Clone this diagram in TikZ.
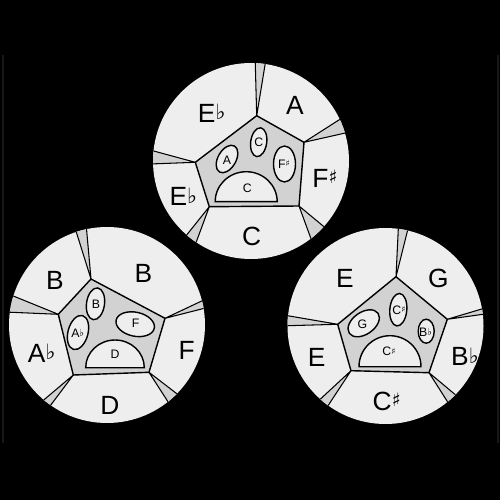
\documentclass[tikz,border=0pt]{standalone}
\usepackage{fontspec}
\setmainfont{Liberation Sans}
\newfontfamily\symfont{DejaVu Sans}
\usepackage{graphicx}
\usetikzlibrary{calc}
\definecolor{ringgray}{HTML}{EEEEEE}
\definecolor{pentgray}{HTML}{D2D2D2}
\newcommand{\flatsym}{\raisebox{.1em}{\scalebox{.8}{\symfont ♭}}}
\newcommand{\sharpsym}{\raisebox{.15em}{\scalebox{.7}{\symfont ♯}}}

\begin{document}
\begin{tikzpicture}[x=0.02cm,y=-0.02cm,line width=0.8pt,
  ring/.style={fill=ringgray},
  wedge/.style={fill=pentgray,draw=black,line width=0.6pt},
  pent/.style={fill=pentgray,draw=black},
  ell/.style={fill=ringgray,draw=black},
  big/.style={font=\fontsize{15}{18}\selectfont,inner sep=0pt},
  small/.style={font=\fontsize{7}{8}\selectfont,inner sep=0pt}]
\useasboundingbox (0,0) rectangle (500,500);
\fill[black] (0,0) rectangle (500,500);
\draw[gray!18!black,line width=0.6pt] (3,55) -- (3,443);
\draw[gray!18!black,line width=0.6pt] (498,55) -- (498,443);
% Top wheel
\begin{scope}[shift={(251,161)}]
\fill[ring] (0,0) circle (98);
\coordinate (a1) at (5.7,-45.3);
\coordinate (a2) at (53,-18.7);
\coordinate (a3) at (48,45);
\coordinate (a4) at (-41.7,45.7);
\coordinate (a5) at (-55.7,1.3);
\begin{scope}
\clip (0,0) circle (98);
\filldraw[wedge] (a1) -- ($(a1)!3!(4.3,-96.7)$) -- ($(a1)!3!(14,-96)$) -- cycle;
\filldraw[wedge] (a2) -- ($(a2)!3!(86.3,-40)$) -- ($(a2)!3!(95.7,-28.3)$) -- cycle;
\filldraw[wedge] (a3) -- ($(a3)!3!(62.3,84)$) -- ($(a3)!3!(79,70.7)$) -- cycle;
\filldraw[wedge] (a4) -- ($(a4)!3!(-71,82.3)$) -- ($(a4)!3!(-57.7,89)$) -- cycle;
\filldraw[wedge] (a5) -- ($(a5)!3!(-101,-11)$) -- ($(a5)!3!(-101,3)$) -- cycle;
\end{scope}
\filldraw[pent] (a1) -- (a2) -- (a3) -- (a4) -- (a5) -- cycle;
\filldraw[ell,rotate around={60:(-24,-2)}] (-24,-2) ellipse[x radius=15,y radius=9];
\filldraw[ell,rotate around={-8:(7.7,-18.8)}] (7.7,-18.8) ellipse[x radius=8,y radius=14.5];
\filldraw[ell] (33.5,3) ellipse[x radius=11,y radius=18];
\filldraw[ell] (-35.8,40.7) arc[start angle=180,end angle=360,x radius=31,y radius=30] -- cycle;
\node[small] (aA) at (-24,-1) {A};
\node[small] (aC) at (7.7,-19) {C};
\node[small] (aFs) at (33,3) {F\sharpsym};
\node[small] (aCd) at (-3.7,27.3) {C};
\node[big] (aEb) at (-39.3,-47.7) {E\flatsym};
\node[big] (aA2) at (44,-56) {A};
\node[big] (aFs2) at (74,17.3) {F\sharpsym};
\node[big] (aEb2) at (-67.7,35.7) {E\flatsym};
\node[big] (aC2) at (0.7,75.7) {C};
\end{scope}
% Lower left wheel
\begin{scope}[shift={(107,325)}]
\fill[ring] (0,0) circle (98);
\coordinate (b1) at (-16,-46);
\coordinate (b2) at (58,-6.7);
\coordinate (b3) at (42,47.3);
\coordinate (b4) at (-33.7,50);
\coordinate (b5) at (-48.7,-10.7);
\begin{scope}
\clip (0,0) circle (98);
\filldraw[wedge] (b1) -- ($(b1)!3!(-30.3,-91.7)$) -- ($(b1)!3!(-20.3,-94)$) -- cycle;
\filldraw[wedge] (b2) -- ($(b2)!3!(94.7,-24)$) -- ($(b2)!3!(97.3,-16.7)$) -- cycle;
\filldraw[wedge] (b3) -- ($(b3)!3!(66.3,85)$) -- ($(b3)!3!(78,75)$) -- cycle;
\filldraw[wedge] (b4) -- ($(b4)!3!(-65.3,76.7)$) -- ($(b4)!3!(-58.7,83.3)$) -- cycle;
\filldraw[wedge] (b5) -- ($(b5)!3!(-92,-28.3)$) -- ($(b5)!3!(-95.3,-12.7)$) -- cycle;
\end{scope}
\filldraw[pent] (b1) -- (b2) -- (b3) -- (b4) -- (b5) -- cycle;
\filldraw[ell,rotate around={-8:(-11.5,-21.2)}] (-11.5,-21.2) ellipse[x radius=9,y radius=16];
\filldraw[ell,rotate around={-15:(-29,7.5)}] (-29,7.5) ellipse[x radius=10,y radius=17.5];
\filldraw[ell,rotate around={-12:(28.2,-0.8)}] (28.2,-0.8) ellipse[x radius=19.5,y radius=12];
\filldraw[ell] (-21.3,42.7) arc[start angle=180,end angle=360,x radius=29.3,y radius=27.7] -- cycle;
\node[small] (bB) at (-11,-21) {B};
\node[small] (bAb) at (-29.3,8.3) {A\flatsym};
\node[small] (bF) at (28.7,-1.7) {F};
\node[small] (bDd) at (8,29.3) {D};
\node[big] (bB1) at (-52,-45) {B};
\node[big] (bB2) at (36.3,-51.7) {B};
\node[big] (bAb2) at (-65.3,28.3) {A\flatsym};
\node[big] (bF2) at (79.7,25) {F};
\node[big] (bD2) at (3,80) {D};
\end{scope}
% Lower right wheel
\begin{scope}[shift={(385.5,326)}]
\fill[ring] (0,0) circle (98);
\coordinate (c1) at (10.5,-49.3);
\coordinate (c2) at (61.8,-6.7);
\coordinate (c3) at (43.5,46.7);
\coordinate (c4) at (-34.5,44.7);
\coordinate (c5) at (-47.8,-1.7);
\begin{scope}
\clip (0,0) circle (98);
\filldraw[wedge] (c1) -- ($(c1)!3!(12.8,-97)$) -- ($(c1)!3!(22.2,-96)$) -- cycle;
\filldraw[wedge] (c2) -- ($(c2)!3!(99.5,-18)$) -- ($(c2)!3!(99.5,-12)$) -- cycle;
\filldraw[wedge] (c3) -- ($(c3)!3!(66.2,82.3)$) -- ($(c3)!3!(76.2,74)$) -- cycle;
\filldraw[wedge] (c4) -- ($(c4)!3!(-67.2,75)$) -- ($(c4)!3!(-58.8,81.7)$) -- cycle;
\filldraw[wedge] (c5) -- ($(c5)!3!(-97.8,-10.3)$) -- ($(c5)!3!(-97.8,-0.3)$) -- cycle;
\end{scope}
\filldraw[pent] (c1) -- (c2) -- (c3) -- (c4) -- (c5) -- cycle;
\filldraw[ell,rotate around={-5:(12.8,-16.3)}] (12.8,-16.3) ellipse[x radius=8.5,y radius=16.3];
\filldraw[ell,rotate around={35:(-21.8,-2.7)}] (-21.8,-2.7) ellipse[x radius=17.5,y radius=11];
\filldraw[ell] (40.7,5.2) ellipse[x radius=8,y radius=12];
\filldraw[ell] (-26.5,40.7) arc[start angle=180,end angle=360,x radius=31,y radius=31] -- cycle;
\node[small] (cCs) at (13.5,-16) {C\sharpsym};
\node[small] (cG) at (-23,-2) {G};
\node[small] (cBb) at (40,6) {B\flatsym};
\node[small] (cCd) at (3.5,25.7) {C\sharpsym};
\node[big] (cE1) at (-40.5,-47.7) {E};
\node[big] (cG2) at (52.8,-47.7) {G};
\node[big] (cE2) at (-68.8,31.7) {E};
\node[big] (cBb2) at (79.5,30.7) {B\flatsym};
\node[big] (cCs2) at (1.2,75.7) {C\sharpsym};
\end{scope}
\end{tikzpicture}
\end{document}
